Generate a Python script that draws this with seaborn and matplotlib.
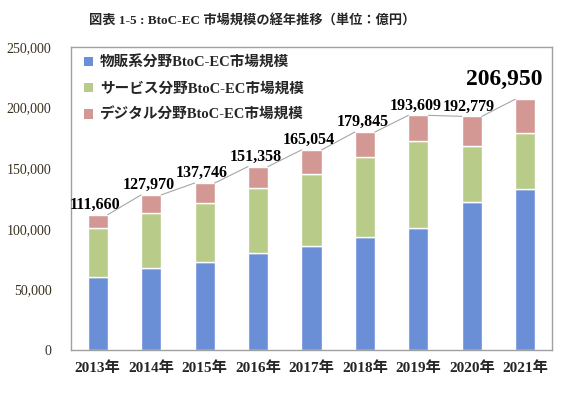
import pandas as pd
import numpy as np
import seaborn as sns
import matplotlib.pyplot as plt
from matplotlib.patches import Patch

years = ['2013年', '2014年', '2015年', '2016年', '2017年', '2018年', '2019年', '2020年', '2021年']
goods = [59931, 68043, 72398, 80043, 86008, 92992, 100515, 122333, 132865]
services = [40877, 44816, 49014, 53532, 59568, 66471, 71672, 45832, 46424]
digital = [10852, 15111, 16334, 17783, 19478, 20382, 21422, 24614, 27661]
series_names = ['物販系分野BtoC-EC市場規模', 'サービス分野BtoC-EC市場規模', 'デジタル分野BtoC-EC市場規模']
colors = ['#6a8fd6', '#b8cb89', '#d39894']

sns.set_theme(style='white')
plt.rcParams['font.family'] = ['Liberation Serif', 'Noto Sans CJK JP']

df = pd.DataFrame({'year': years, 'goods': goods, 'services': services, 'digital': digital})
df['total'] = df['goods'] + df['services'] + df['digital']

fig = plt.figure(figsize=(5.79, 3.93), dpi=100)
ax = fig.add_axes([71 / 579, 1 - 350 / 393, 481 / 579, 303 / 393])

w = 0.375
bottoms = np.zeros(len(df))
for col, c in zip(['goods', 'services', 'digital'], colors):
    sns.barplot(data=df, x='year', y=col, color=c, width=w, bottom=bottoms,
                edgecolor='white', linewidth=1, ax=ax, saturation=1)
    bottoms = bottoms + df[col].values

# series lines between bar tops
tot = df['total'].values
for i in range(len(tot) - 1):
    ax.plot([i + w / 2, i + 1 - w / 2], [tot[i], tot[i + 1]], color='#a6a6a6', lw=0.8, zorder=1)

# total labels
for i, t in enumerate(tot):
    if i == len(tot) - 1:
        ax.text(i - 0.4, t + 8000, f'{t:,}', ha='center', va='bottom', fontsize=17,
                fontweight='bold', color='black')
    else:
        ax.text(i - 0.05, t + 1500, f'{t:,}', ha='center', va='bottom', fontsize=11.5,
                fontweight='bold', color='black')

ax.set_ylim(0, 250000)
ax.set_xlim(-0.5, 8.5)
ax.set_yticks(range(0, 250001, 50000))
ax.set_yticklabels([f'{v:,}' for v in range(0, 250001, 50000)], fontsize=10, color='#3a3020')
ax.tick_params(axis='y', length=0, pad=14)
ax.tick_params(axis='x', length=0, pad=8)
for lbl in ax.get_xticklabels():
    lbl.set_fontweight('bold')
    lbl.set_fontsize(11)
ax.set_xlabel('')
ax.set_ylabel('')
for s in ax.spines.values():
    s.set_color('#a0a0a0')
    s.set_linewidth(1)

handles = [Patch(facecolor=c, edgecolor='none') for c in colors]
leg = ax.legend(handles, series_names, loc='upper left', bbox_to_anchor=(0.0, 1.015),
                frameon=False, handlelength=0.6, handleheight=0.6, handletextpad=0.5,
                labelspacing=0.85, prop={'weight': 'bold', 'size': 10.5})

fig.text(252 / 579, 1 - 20 / 393, '図表 1-5 : BtoC-EC 市場規模の経年推移（単位：億円）', ha='center', va='center',
         fontsize=9.5, fontweight='bold')

fig.savefig('out.png', dpi=100)
